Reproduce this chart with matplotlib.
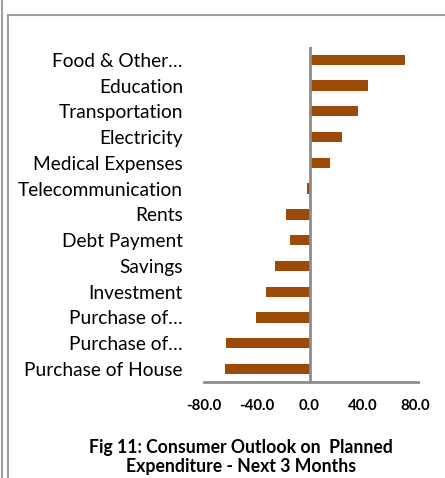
import matplotlib
matplotlib.use('Agg')
import matplotlib.pyplot as plt
from matplotlib.lines import Line2D

plt.rcParams['font.family'] = ['Lato', 'DejaVu Sans']

# data
categories = ['Food & Other…', 'Education', 'Transportation', 'Electricity',
              'Medical Expenses', 'Telecommunication', 'Rents', 'Debt Payment',
              'Savings', 'Investment', 'Purchase of…', 'Purchase of…',
              'Purchase of House']
values = [72.0, 44.0, 36.5, 24.7, 15.4, -2.0, -17.7, -14.4, -26.4, -33.0,
          -40.5, -63.0, -64.0]
xticks = [-80, -40, 0, 40, 80]
title = 'Fig 11: Consumer Outlook on  Planned\nExpenditure - Next 3 Months'

fig = plt.figure(figsize=(4.45, 4.78), dpi=100)
ax = fig.add_axes([0.458, 0.201, 0.481, 0.701])

pos = list(range(len(categories)))
ax.barh(pos, values, height=0.4, color='#9C4A06', zorder=2)
ax.set_ylim(len(categories) - 0.5, -0.5)
ax.set_xlim(-80, 82)

ax.set_yticks(pos)
ax.set_yticklabels(categories, fontsize=13.8)
ax.set_xticks(xticks)
ax.set_xticklabels(['%.1f' % t for t in xticks], fontsize=10.8, fontweight='bold')
ax.tick_params(axis='y', length=0, pad=15)
ax.tick_params(axis='x', length=0, pad=12)

for s in ['top', 'right', 'left']:
    ax.spines[s].set_visible(False)
ax.spines['bottom'].set_color('#8c8c8c')
ax.spines['bottom'].set_linewidth(2)
ax.axvline(0, color='#8c8c8c', linewidth=2, zorder=3)

fig.text(0.542, 0.044, title, ha='center', va='center', fontsize=12.7,
         fontweight='bold', linespacing=1.15)

# outer frame lines
gray = '#a0a0a0'
fig.add_artist(Line2D([0.004, 0.004], [0, 1], color=gray, lw=1.5))
fig.add_artist(Line2D([0.017, 0.017], [0, 1 - 15 / 478], color=gray, lw=1.5))
fig.add_artist(Line2D([0.017, 1], [1 - 15 / 478, 1 - 15 / 478], color=gray, lw=1.5))

fig.savefig('out.png', dpi=100)
